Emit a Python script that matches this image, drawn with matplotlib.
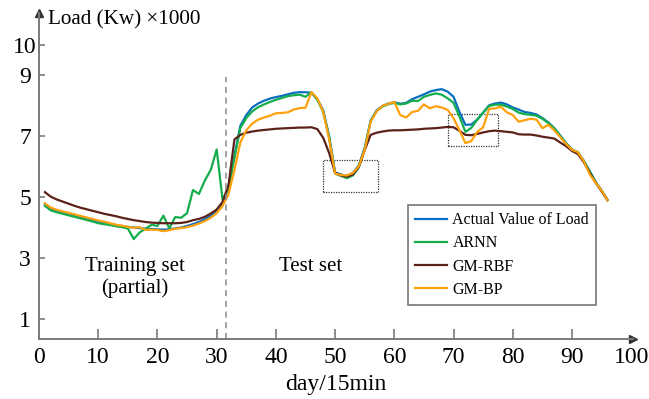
"""
Load forecast comparison: actual load vs ARNN, GM-RBF and GM-BP.
"""

import matplotlib
matplotlib.use("Agg")
from matplotlib import pyplot as plt
from matplotlib.patches import Rectangle
import numpy as np

# sample index (15 min steps over one day)
steps = np.arange(1, 97)

actual_load = [
    4.77, 4.62, 4.56, 4.51, 4.46, 4.41, 4.36, 4.31, 4.26, 4.21,
    4.17, 4.13, 4.09, 4.06, 4.03, 4.01, 3.99, 3.97, 3.96, 3.95,
    3.94, 3.95, 3.98, 4.01, 4.06, 4.12, 4.19, 4.28, 4.40, 4.57,
    4.80, 5.35, 6.35, 7.35, 7.70, 7.95, 8.08, 8.17, 8.24, 8.29,
    8.33, 8.38, 8.43, 8.45, 8.45, 8.43, 8.22, 7.85, 7.00, 5.82,
    5.75, 5.70, 5.80, 6.05, 6.62, 7.52, 7.85, 8.00, 8.08, 8.12,
    8.07, 8.10, 8.22, 8.30, 8.38, 8.47, 8.52, 8.55, 8.47, 8.30,
    7.80, 7.38, 7.39, 7.55, 7.78, 8.02, 8.08, 8.11, 8.05, 7.95,
    7.88, 7.80, 7.77, 7.72, 7.60, 7.46, 7.27, 7.03, 6.78, 6.57,
    6.48, 6.20, 5.85, 5.50, 5.22, 4.91,
]

arnn = [
    4.72, 4.57, 4.51, 4.46, 4.41, 4.36, 4.31, 4.26, 4.21, 4.15,
    4.12, 4.09, 4.05, 4.02, 3.98, 3.63, 3.85, 3.97, 4.10, 4.06,
    4.40, 3.98, 4.35, 4.33, 4.48, 5.24, 5.11, 5.55, 5.90, 6.57,
    4.92, 5.30, 6.30, 7.28, 7.60, 7.82, 7.96, 8.05, 8.13, 8.20,
    8.26, 8.32, 8.35, 8.37, 8.30, 8.45, 8.20, 7.80, 6.95, 5.78,
    5.70, 5.63, 5.72, 5.98, 6.60, 7.50, 7.83, 7.98, 8.06, 8.10,
    8.05, 8.08, 8.17, 8.16, 8.30, 8.36, 8.41, 8.37, 8.25, 8.10,
    7.65, 7.15, 7.28, 7.55, 7.78, 8.00, 8.04, 8.04, 7.98, 7.90,
    7.78, 7.73, 7.71, 7.68, 7.58, 7.44, 7.26, 7.02, 6.77, 6.56,
    6.47, 6.18, 5.85, 5.50, 5.22, 4.91,
]

gm_rbf = [
    5.17, 5.02, 4.93, 4.86, 4.79, 4.72, 4.66, 4.61, 4.56, 4.51,
    4.46, 4.42, 4.38, 4.33, 4.29, 4.25, 4.22, 4.19, 4.17, 4.16,
    4.15, 4.15, 4.15, 4.16, 4.19, 4.25, 4.29, 4.36, 4.47, 4.60,
    4.85, 5.40, 6.90, 7.05, 7.12, 7.16, 7.19, 7.21, 7.23, 7.25,
    7.26, 7.27, 7.28, 7.29, 7.29, 7.30, 7.24, 6.95, 6.45, 5.80,
    5.72, 5.68, 5.75, 6.00, 6.55, 7.05, 7.12, 7.16, 7.19, 7.20,
    7.20, 7.21, 7.22, 7.23, 7.25, 7.26, 7.27, 7.29, 7.31, 7.30,
    7.18, 7.05, 7.04, 7.08, 7.13, 7.17, 7.19, 7.17, 7.15, 7.13,
    7.07, 7.06, 7.06, 7.03, 6.99, 6.96, 6.93, 6.80, 6.68, 6.52,
    6.42, 6.15, 5.80, 5.48, 5.20, 4.91,
]

gm_bp = [
    4.80, 4.66, 4.59, 4.54, 4.49, 4.44, 4.39, 4.34, 4.29, 4.24,
    4.20, 4.15, 4.10, 4.07, 4.03, 4.00, 4.02, 3.93, 3.94, 3.93,
    3.89, 3.92, 3.97, 3.99, 4.02, 4.07, 4.14, 4.22, 4.33, 4.48,
    4.72, 5.10, 5.90, 6.80, 7.20, 7.42, 7.55, 7.62, 7.68, 7.76,
    7.77, 7.79, 7.88, 7.93, 7.94, 8.45, 8.25, 7.80, 6.90, 5.78,
    5.73, 5.72, 5.80, 6.02, 6.55, 7.48, 7.82, 8.00, 8.07, 8.13,
    7.70, 7.62, 7.80, 7.84, 8.05, 7.92, 7.99, 7.95, 7.87, 7.60,
    7.20, 6.78, 6.85, 7.15, 7.30, 7.90, 7.92, 7.97, 7.79, 7.70,
    7.48, 7.53, 7.58, 7.55, 7.27, 7.38, 7.20, 6.98, 6.75, 6.56,
    6.48, 6.18, 5.75, 5.48, 5.22, 4.91,
]

series_labels = ["Actual Value of Load", "ARNN", "GM-RBF", "GM-BP"]
series_colors = ["#0a6ec0", "#14ad4c", "#5c2219", "#ffa10c"]

x_ticks = [0, 10, 20, 30, 40, 50, 60, 70, 80, 90, 100]
y_ticks = [1, 3, 5, 7, 9, 10]

split_step = 31.5
# zoomed boxes: (x0, x1, y0, y1)
boxes = [(47.9, 57.2, 5.16, 6.22), (69.0, 77.5, 6.70, 7.72)]


def _main():
    plt.rcParams["font.family"] = ["Liberation Serif", "DejaVu Serif"]
    axis_grey = "#7a7a7a"

    fig = plt.figure(figsize=(6.49, 3.99), dpi=100)
    ax = fig.add_axes([39 / 649, 1 - 339 / 399, (633 - 39) / 649, (339 - 13) / 399])

    for values, label, color in zip([actual_load, arnn, gm_rbf, gm_bp], series_labels, series_colors):
        ax.plot(steps, values, color=color, lw=1.6, label=label)

    ax.set_xlim(0, 100.3)
    ax.set_ylim(0.35, 11.05)

    ax.vlines(split_step, 0.35, 8.94, colors="#8a8a8a", linestyles=(0, (4, 3)), lw=1.1)

    for x0, x1, y0, y1 in boxes:
        ax.add_patch(Rectangle((x0, y0), x1 - x0, y1 - y0, fill=False,
                               ls=(0, (1, 1)), lw=0.9, ec="#333333"))

    ax.text(16.2, 2.72, "Training set", ha="center", va="center", fontsize=15)
    ax.text(16.2, 2.02, "(partial)", ha="center", va="center", fontsize=15)
    ax.text(45.9, 2.72, "Test set", ha="center", va="center", fontsize=15)

    # axes: only left and bottom, with arrow heads
    for side in ["top", "right"]:
        ax.spines[side].set_visible(False)
    for side in ["left", "bottom"]:
        ax.spines[side].set_color(axis_grey)
        ax.spines[side].set_linewidth(1.4)
    ax.plot(1, 0, ">", transform=ax.transAxes, clip_on=False, color="#333333", ms=6)
    ax.plot(0, 1, "^", transform=ax.transAxes, clip_on=False, color="#333333", ms=6)

    ax.set_xticks(x_ticks)
    ax.set_yticks(y_ticks)
    ax.tick_params(axis="x", direction="in", length=7, width=1.2, color=axis_grey,
                   labelsize=17, pad=6)
    ax.tick_params(axis="y", direction="in", length=4.5, width=1.2, color=axis_grey,
                   labelsize=17, pad=10)
    for lbl in ax.get_yticklabels():
        lbl.set_horizontalalignment("center")
    xt = ax.xaxis.get_major_ticks()
    xt[0].tick1line.set_visible(False)
    xt[-1].tick1line.set_visible(False)

    ax.set_xlabel("day/15min", fontsize=17, labelpad=4)
    fig.text(48 / 649, 1 - 20 / 399, "Load (Kw) \u00d71000", ha="left", va="center", fontsize=15.2)

    leg = ax.legend(loc="upper left", bbox_to_anchor=(407.7 / 649, 1 - 205 / 399),
                    bbox_transform=fig.transFigure, borderaxespad=0, fontsize=11.5,
                    handlelength=2.0, handletextpad=0.35, labelspacing=0.45,
                    fancybox=False, framealpha=1, edgecolor="#777777", borderpad=0.45)
    leg.get_frame().set_linewidth(1.2)

    fig.savefig("out.png", dpi=100, facecolor="white")


if __name__ == "__main__":
    _main()
